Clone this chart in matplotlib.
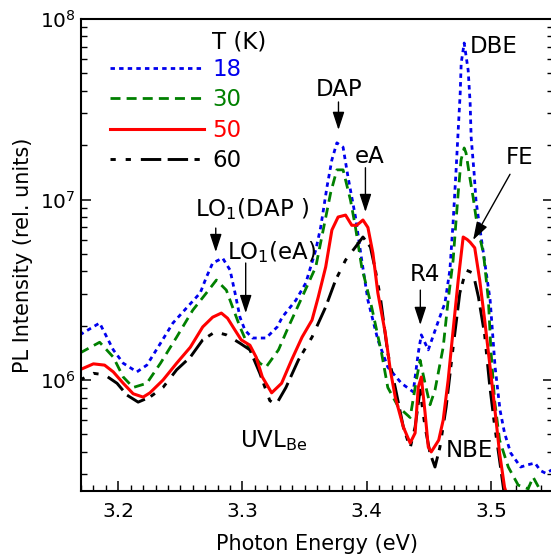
import matplotlib
matplotlib.use("Agg")
import matplotlib.pyplot as plt
from matplotlib.ticker import MultipleLocator, LogLocator, NullFormatter

plt.rcParams['font.family'] = ['DejaVu Sans']
plt.rcParams['mathtext.default'] = 'regular'

# ---- data (photon energy in eV, PL intensity in rel. units) ----
x_18 = [3.169, 3.185, 3.196, 3.204, 3.215, 3.223, 3.234, 3.244, 3.255, 3.266, 3.271, 3.276,
        3.284, 3.290, 3.294, 3.298, 3.302, 3.308, 3.319, 3.328, 3.332, 3.343, 3.351, 3.359,
        3.363, 3.368, 3.372, 3.376, 3.381, 3.385, 3.391, 3.396, 3.401, 3.409, 3.417, 3.428,
        3.4375, 3.4415, 3.444, 3.4496, 3.458, 3.463, 3.467, 3.4696, 3.472, 3.4737, 3.4753,
        3.4761, 3.4785, 3.4817, 3.4833, 3.4841, 3.4865, 3.488, 3.491, 3.494, 3.4994, 3.5034,
        3.5074, 3.511, 3.516, 3.524, 3.530, 3.5355, 3.540, 3.544, 3.55]
y_18 = [1.78e6, 2.07e6, 1.47e6, 1.24e6, 1.11e6, 1.21e6, 1.60e6, 2.07e6, 2.51e6, 3.04e6, 3.72e6, 4.45e6,
        4.74e6, 4.07e6, 3.04e6, 2.23e6, 1.89e6, 1.71e6, 1.71e6, 1.97e6, 2.23e6, 2.77e6, 3.45e6, 5.25e6,
        7.04e6, 1.17e7, 1.66e7, 2.06e7, 1.95e7, 1.33e7, 8.0e6, 4.62e6, 2.77e6, 1.67e6, 1.18e6, 9.6e5,
        8.6e5, 1.41e6, 1.78e6, 1.47e6, 2.15e6, 2.67e6, 4.07e6, 7.5e6, 1.46e7, 2.43e7, 3.89e7,
        5.7e7, 7.36e7, 5.21e7, 3.43e7, 2.22e7, 1.40e7, 9.9e6, 7.0e6, 5.05e6, 2.77e6, 1.18e6,
        6.8e5, 5.09e5, 3.94e5, 3.30e5, 3.4e5, 3.47e5, 3.15e5, 3.05e5, 3.2e5]

x_30 = [3.169, 3.185, 3.196, 3.204, 3.212, 3.223, 3.234, 3.247, 3.260, 3.271, 3.279, 3.287,
        3.292, 3.298, 3.306, 3.314, 3.319, 3.329, 3.337, 3.348, 3.359, 3.365, 3.371, 3.376,
        3.381, 3.387, 3.391, 3.396, 3.404, 3.412, 3.417, 3.4255, 3.435, 3.440, 3.443, 3.447,
        3.451, 3.455, 3.4616, 3.4656, 3.4696, 3.472, 3.4737, 3.476, 3.4785, 3.480, 3.483,
        3.4857, 3.488, 3.491, 3.494, 3.498, 3.500, 3.503, 3.507, 3.514, 3.522, 3.530, 3.534, 3.542]
y_30 = [1.41e6, 1.62e6, 1.34e6, 1.04e6, 9.1e5, 9.6e5, 1.24e6, 1.73e6, 2.44e6, 3.04e6, 3.58e6, 3.15e6,
        2.54e6, 1.97e6, 1.47e6, 1.24e6, 1.18e6, 1.47e6, 1.97e6, 2.88e6, 4.23e6, 6.78e6, 1.09e7, 1.46e7,
        1.46e7, 9.9e6, 7.0e6, 4.23e6, 2.54e6, 1.41e6, 9.1e5, 7.1e5, 6.2e5, 1.0e6, 1.29e6, 9.6e5,
        7.3e5, 8.8e5, 1.52e6, 2.77e6, 4.62e6, 7.7e6, 1.09e7, 1.66e7, 1.93e7, 1.81e7, 1.33e7,
        1.03e7, 8.0e6, 6.2e6, 5.05e6, 2.77e6, 1.47e6, 7.7e5, 4.65e5, 3.3e5, 2.62e5, 2.5e5, 2.9e5, 2.3e5]

x_50 = [3.169, 3.180, 3.189, 3.196, 3.204, 3.212, 3.220, 3.2255, 3.236, 3.247, 3.258, 3.268,
        3.276, 3.283, 3.288, 3.294, 3.299, 3.306, 3.311, 3.316, 3.3235, 3.3315, 3.3395, 3.348,
        3.356, 3.361, 3.367, 3.372, 3.377, 3.383, 3.388, 3.392, 3.397, 3.401, 3.405, 3.409,
        3.415, 3.419, 3.423, 3.4295, 3.435, 3.439, 3.4415, 3.444, 3.447, 3.4496, 3.452, 3.458,
        3.4616, 3.4656, 3.4696, 3.4737, 3.4777, 3.481, 3.4833, 3.487, 3.491, 3.495, 3.499,
        3.503, 3.507, 3.511, 3.513]
y_50 = [1.14e6, 1.23e6, 1.21e6, 1.11e6, 9.6e5, 8.4e5, 8.05e5, 8.5e5, 1.0e6, 1.24e6, 1.52e6, 1.97e6,
        2.23e6, 2.35e6, 2.20e6, 1.89e6, 1.67e6, 1.56e6, 1.34e6, 1.04e6, 8.5e5, 9.6e5, 1.29e6, 1.73e6,
        2.15e6, 2.88e6, 4.23e6, 6.78e6, 8.0e6, 8.2e6, 7.2e6, 7.2e6, 7.7e6, 7.0e6, 5.05e6, 3.04e6,
        1.82e6, 1.14e6, 8.05e5, 5.5e5, 4.48e5, 5.09e5, 9.1e5, 1.04e6, 6.6e5, 4.26e5, 4.0e5, 4.65e5,
        6.0e5, 1.0e6, 1.89e6, 3.58e6, 6.2e6, 6.0e6, 5.8e6, 5.4e6, 3.58e6, 2.15e6, 1.24e6,
        7.1e5, 3.94e5, 2.55e5, 2.3e5]

x_60 = [3.169, 3.180, 3.189, 3.199, 3.207, 3.216, 3.2255, 3.236, 3.247, 3.258, 3.268, 3.278,
        3.287, 3.298, 3.306, 3.314, 3.322, 3.327, 3.335, 3.345, 3.356, 3.367, 3.375, 3.383,
        3.391, 3.397, 3.403, 3.407, 3.411, 3.417, 3.423, 3.4295, 3.435, 3.439, 3.443, 3.447,
        3.451, 3.455, 3.459, 3.464, 3.4696, 3.475, 3.480, 3.4857, 3.490, 3.495, 3.499, 3.503,
        3.507, 3.510, 3.511]
y_60 = [1.0e6, 1.09e6, 1.07e6, 9.6e5, 8.26e5, 7.55e5, 8.05e5, 9.1e5, 1.14e6, 1.34e6, 1.67e6, 1.85e6,
        1.78e6, 1.60e6, 1.47e6, 1.09e6, 7.7e5, 7.3e5, 9.1e5, 1.29e6, 1.73e6, 2.54e6, 3.58e6, 4.62e6,
        5.46e6, 6.2e6, 5.46e6, 4.07e6, 2.88e6, 1.41e6, 9.1e5, 5.5e5, 4.2e5, 5.5e5, 8.8e5, 5.5e5,
        3.94e5, 3.3e5, 4.26e5, 7.1e5, 1.52e6, 3.04e6, 4.07e6, 3.91e6, 2.88e6, 1.78e6, 9.4e5, 5.6e5,
        3.6e5, 2.55e5, 2.3e5]

temps = ['18', '30', '50', '60']
colors = ['#0000ee', '#008000', '#ff0000', '#000000']

# annotations: (text, x, y)
labels = [("LO$_1$(DAP )", 3.2616, 8.9e6),
          ("LO$_1$(eA)", 3.2873, 5.12e6),
          ("DAP", 3.3586, 4.05e7),
          ("eA", 3.3908, 1.74e7),
          ("R4", 3.435, 3.86e6),
          ("DBE", 3.4833, 7.08e7),
          ("FE", 3.5122, 1.70e7),
          ("UVL$_{Be}$", 3.2977, 4.65e5),
          ("NBE", 3.4640, 4.05e5)]
# arrows: (tail x, tail y, tip x, tip y)
arrows = [(3.2785, 6.95e6, 3.2785, 5.12e6),
          (3.3026, 4.45e6, 3.3026, 2.35e6),
          (3.3773, 3.47e7, 3.3773, 2.43e7),
          (3.3990, 1.50e7, 3.3990, 8.53e6),
          (3.4432, 3.15e6, 3.4432, 2.02e6),
          (3.5154, 1.38e7, 3.4857, 5.97e6)]

fig = plt.figure(figsize=(5.51, 5.6), dpi=100)
ax = fig.add_axes([0.147, 0.1232, 0.8566, 0.8429])

l18, = ax.plot(x_18, y_18, color=colors[0], lw=2.0, linestyle=(0, (1.6, 1.5)))
l30, = ax.plot(x_30, y_30, color=colors[1], lw=2.0, linestyle=(0, (3.6, 2.2)))
l60, = ax.plot(x_60, y_60, color=colors[3], lw=2.1,
               linestyle=(0, (1.8, 3.4, 1.8, 3.4, 7.0, 2.2, 7.0, 2.2)))
l50, = ax.plot(x_50, y_50, color=colors[2], lw=2.2, linestyle='-')

ax.set_yscale('log')
ax.set_xlim(3.17, 3.55)
ax.set_ylim(2.43e5, 1e8)

ax.xaxis.set_major_locator(MultipleLocator(0.1))
ax.xaxis.set_minor_locator(MultipleLocator(0.01))
ax.yaxis.set_major_locator(LogLocator(base=10, numticks=10))
ax.yaxis.set_minor_locator(LogLocator(base=10, subs=range(2, 10), numticks=20))
ax.yaxis.set_minor_formatter(NullFormatter())

ax.tick_params(axis='x', which='both', direction='in', top=False, bottom=True,
               labelsize=14.5, pad=8)
ax.tick_params(axis='y', which='both', direction='in', left=True, right=True,
               labelsize=14.5, pad=4)
ax.tick_params(which='major', length=7, width=1.1)
ax.tick_params(which='minor', length=4.5, width=1.0)
for s in ax.spines.values():
    s.set_linewidth(1.5)

ax.set_xlabel('Photon Energy (eV)', fontsize=15, labelpad=9)
ax.set_ylabel('PL Intensity (rel. units)', fontsize=15, labelpad=5)

handles = [l18, l30, l50, l60]
leg = ax.legend(handles, temps, loc='upper left', bbox_to_anchor=(0.0614, 0.918),
                frameon=False, fontsize=16.5, handlelength=4.1, handletextpad=0.35,
                labelspacing=0.33, borderpad=0, borderaxespad=0)
for t, c in zip(leg.get_texts(), colors):
    t.set_color(c)
ax.text(0.2775, 0.9513, 'T (K)', transform=ax.transAxes, fontsize=16.5,
        ha='left', va='center')

for txt, tx, ty in labels:
    ax.text(tx, ty, txt, fontsize=16.5, ha='left', va='center')

for x0, y0, x1, y1 in arrows:
    ax.annotate('', xy=(x1, y1), xytext=(x0, y0),
                arrowprops=dict(arrowstyle='-|>,head_length=0.55,head_width=0.18',
                                mutation_scale=20, color='black', lw=1.0,
                                shrinkA=0, shrinkB=0))

fig.savefig('out.png', dpi=100)
